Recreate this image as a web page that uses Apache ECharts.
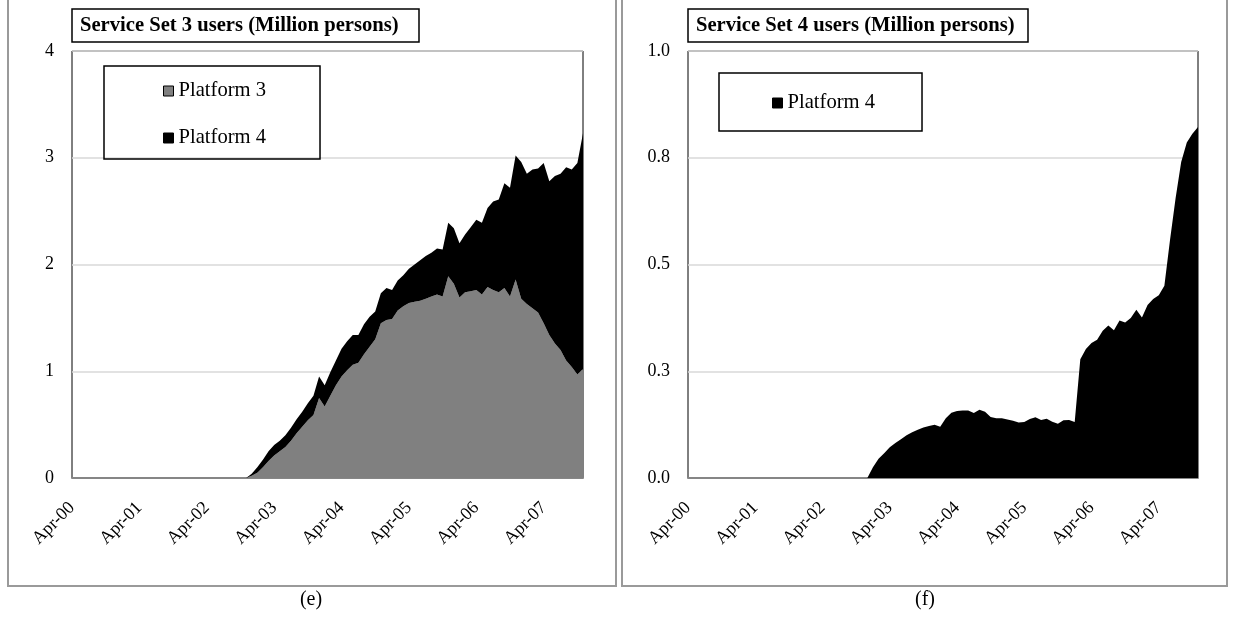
<!DOCTYPE html>
<html>
<head>
<meta charset="utf-8">
<script src="https://cdn.jsdelivr.net/npm/echarts@6/dist/echarts.min.js"></script>
<style>
  html, body { margin: 0; padding: 0; background: #fff; }
  #chart { width: 1233px; height: 625px; }
</style>
</head>
<body>
<div id="chart"></div>
<script>
// Monthly user counts, Apr-00 .. Nov-07 (92 months), million persons
const startYear = 2000;
const startMonth = 3; // April (0-based)
const monthCount = 92;
const monthNames = ['Jan','Feb','Mar','Apr','May','Jun','Jul','Aug','Sep','Oct','Nov','Dec'];

// Service Set 3 — Platform 3
const set3Platform3 = [
  0,0,0,0,0,0,0,0,0,0, 0,0,0,0,0,0,0,0,0,0, 0,0,0,0,0,0,0,0,0,0, 0,0,
  0.02,0.05,0.10,0.16,0.21,0.25,0.29,0.35,0.42,0.48,
  0.54,0.59,0.75,0.67,0.77,0.87,0.95,1.01,1.06,1.08,
  1.16,1.23,1.30,1.45,1.48,1.49,1.57,1.61,1.64,1.65,
  1.66,1.68,1.70,1.72,1.70,1.89,1.82,1.69,1.74,1.75,
  1.76,1.72,1.79,1.76,1.74,1.78,1.70,1.86,1.68,1.63,
  1.59,1.55,1.45,1.34,1.26,1.20,1.10,1.04,0.97,1.02
];

// Service Set 3 — Platform 4 (stacked on Platform 3)
const set3Platform4 = [
  0,0,0,0,0,0,0,0,0,0, 0,0,0,0,0,0,0,0,0,0, 0,0,0,0,0,0,0,0,0,0, 0,0,
  0.02,0.05,0.07,0.09,0.10,0.10,0.11,0.12,0.13,0.14,
  0.16,0.18,0.20,0.20,0.22,0.23,0.26,0.27,0.28,0.26,
  0.28,0.28,0.26,0.28,0.30,0.27,0.28,0.29,0.32,0.35,
  0.38,0.40,0.41,0.43,0.44,0.50,0.52,0.51,0.54,0.60,
  0.66,0.67,0.74,0.83,0.87,0.98,1.02,1.16,1.28,1.22,
  1.30,1.35,1.50,1.44,1.57,1.65,1.81,1.85,1.98,2.21
];

// Service Set 4 — Platform 4
const set4Platform4 = [
  0,0,0,0,0,0,0,0,0,0, 0,0,0,0,0,0,0,0,0,0, 0,0,0,0,0,0,0,0,0,0, 0,0,
  0,0.025,0.045,0.058,0.072,0.082,0.091,0.100,0.107,0.113,
  0.118,0.122,0.125,0.120,0.140,0.153,0.157,0.158,0.158,0.152,
  0.160,0.155,0.143,0.140,0.140,0.137,0.134,0.130,0.131,0.138,
  0.142,0.136,0.139,0.132,0.127,0.135,0.136,0.131,0.278,0.302,
  0.316,0.324,0.345,0.357,0.346,0.369,0.364,0.375,0.394,0.376,
  0.405,0.419,0.428,0.450,0.557,0.655,0.740,0.786,0.806,0.822
];

const titles = ['Service Set 3 users (Million persons)', 'Service Set 4 users (Million persons)'];
const captions = ['(e)', '(f)'];

// Month labels such as "Apr-00"
const months = [];
for (let k = 0; k < monthCount; k++) {
  const m = (startMonth + k) % 12;
  const y = startYear + Math.floor((startMonth + k) / 12);
  months.push(monthNames[m] + '-' + String(y % 100).padStart(2, '0'));
}

const FONT = "'Liberation Serif', 'Times New Roman', serif";
const chart = echarts.init(document.getElementById('chart'), null, { renderer: 'canvas' });

function xAxisFor(gridIndex) {
  return {
    type: 'category', gridIndex, data: months, boundaryGap: false,
    axisLine: { lineStyle: { color: '#868686', width: 2 } },
    axisTick: { show: false },
    axisLabel: {
      interval: 11, rotate: 45, margin: 27, fontFamily: FONT, fontSize: 18, color: '#000'
    },
    splitLine: { show: false }
  };
}

function yAxisFor(gridIndex, max, interval, digits) {
  return {
    type: 'value', gridIndex, min: 0, max, interval,
    axisLine: { show: false }, axisTick: { show: false },
    axisLabel: {
      margin: 18, fontFamily: FONT, fontSize: 18, color: '#000',
      formatter: v => digits ? v.toFixed(digits) : String(v)
    },
    splitLine: { lineStyle: { color: '#d9d9d9', width: 1.5 } }
  };
}

function areaSeries(name, data, color, xi, stack) {
  return {
    name, type: 'line', data, xAxisIndex: xi, yAxisIndex: xi, stack,
    symbol: 'none', showSymbol: false,
    lineStyle: { width: 0, color }, itemStyle: { color },
    areaStyle: { color, opacity: 1 },
    emphasis: { disabled: true }, animation: false
  };
}

const titleText = { fontFamily: FONT, fontSize: 20.6, fontWeight: 'bold', color: '#000' };
const legendText = { fontFamily: FONT, fontSize: 20.6, color: '#000', lineHeight: 22 };

const option = {
  animation: false,
  textStyle: { fontFamily: FONT },
  title: [
    {
      text: titles[0], left: 72, top: 9,
      padding: [6, 21, 6, 8], borderColor: '#000', borderWidth: 1.5,
      textStyle: titleText
    },
    {
      text: titles[1], left: 688, top: 9,
      padding: [6, 14, 6, 8], borderColor: '#000', borderWidth: 1.5,
      textStyle: titleText
    }
  ],
  legend: [
    {
      data: [
        { name: 'Platform 3', itemStyle: { color: '#808080', borderColor: '#000', borderWidth: 1 } },
        { name: 'Platform 4', itemStyle: { color: '#000', borderColor: '#000', borderWidth: 1 } }
      ],
      orient: 'vertical', left: 104, top: 66,
      padding: [14, 54, 10, 59], itemGap: 25,
      itemWidth: 10, itemHeight: 10, icon: 'rect',
      borderColor: '#000', borderWidth: 1.5,
      textStyle: legendText,
      selectedMode: false
    },
    {
      data: [{ name: 'Platform 4', itemStyle: { color: '#000', borderColor: '#000', borderWidth: 1 } }],
      orient: 'vertical', left: 719, top: 73,
      padding: [19, 47, 17, 53],
      itemWidth: 10, itemHeight: 10, icon: 'rect',
      borderColor: '#000', borderWidth: 1.5,
      textStyle: legendText,
      selectedMode: false
    }
  ],
  grid: [
    { left: 72, right: 650, top: 51, bottom: 147, show: true, borderColor: '#000', borderWidth: 1, backgroundColor: '#fff' },
    { left: 688, right: 35, top: 51, bottom: 147, show: true, borderColor: '#000', borderWidth: 1, backgroundColor: '#fff' }
  ],
  xAxis: [xAxisFor(0), xAxisFor(1)],
  yAxis: [yAxisFor(0, 4, 1, 0), yAxisFor(1, 1, 0.25, 1)],
  series: [
    areaSeries('Platform 3', set3Platform3, '#808080', 0, 'set3'),
    areaSeries('Platform 4', set3Platform4, '#000000', 0, 'set3'),
    areaSeries('Platform 4', set4Platform4, '#000000', 1, 'set4')
  ],
  graphic: [
    // panel frames
    { type: 'rect', shape: { x: 8, y: -4, width: 608, height: 590 }, style: { fill: null, stroke: '#9a9a9a', lineWidth: 2 }, z: -10 },
    { type: 'rect', shape: { x: 622, y: -4, width: 605, height: 590 }, style: { fill: null, stroke: '#9a9a9a', lineWidth: 2 }, z: -10 },
    // panel captions
    { type: 'text', x: 311, y: 600, style: { text: captions[0], font: '20px ' + FONT, fill: '#000', align: 'center', verticalAlign: 'middle' } },
    { type: 'text', x: 925, y: 600, style: { text: captions[1], font: '20px ' + FONT, fill: '#000', align: 'center', verticalAlign: 'middle' } }
  ]
};

chart.setOption(option);
</script>
</body>
</html>
